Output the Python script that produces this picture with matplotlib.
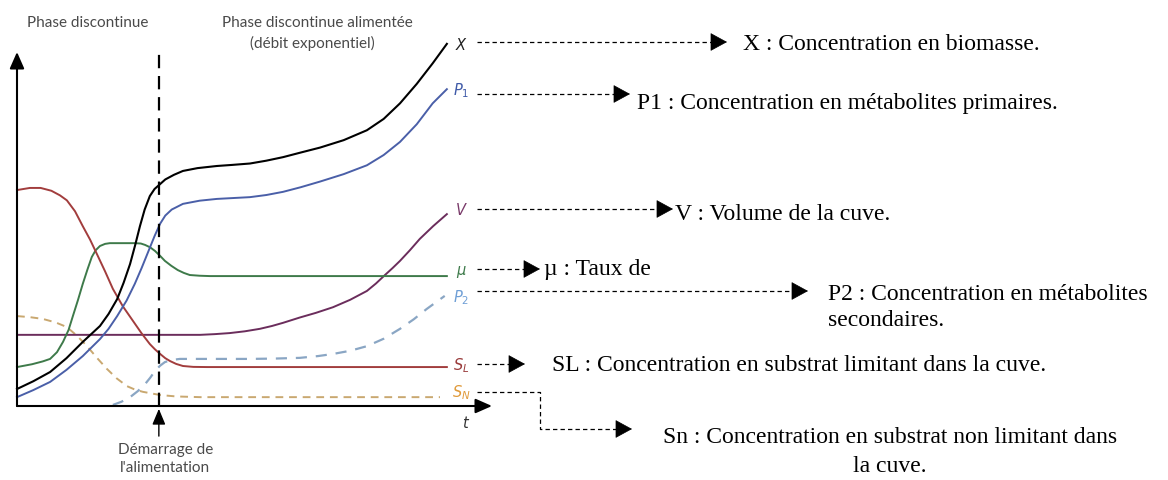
import matplotlib.pyplot as plt

plt.rcParams['mathtext.fontset'] = 'dejavusans'

# time (0 = start, 100 = end of run) and relative concentration values
t_feed = 33.0

x_t = [0, 3.8, 7.7, 11.5, 15.3, 19.3, 21.3, 23.3, 24.8, 26.3, 27.5, 28.6, 29.7, 30.9, 32.0,
       33.3, 34.5, 36.5, 38.6, 42.0, 46.5, 50.0, 54.2, 58.0, 61.9, 66.0, 70.5, 76.0, 81.4,
       85.3, 89.1, 93.0, 96.7, 100]
x_c = [4.8, 7.0, 9.6, 13.5, 18.1, 22.6, 26.0, 30.2, 34.8, 40.1, 45.5, 50.8, 55.5, 59.3, 61.3,
       62.7, 64.0, 65.3, 66.4, 67.2, 67.8, 68.1, 68.5, 69.3, 70.3, 71.6, 73.0, 75.1, 77.9,
       81.1, 85.5, 91.0, 96.8, 102.3]

p1_t = [0, 3.8, 7.7, 11.5, 15.3, 19.3, 21.3, 23.3, 25.5, 27.4, 29.0, 30.5, 32.0, 33.3, 34.5,
        36.0, 38.6, 42.5, 46.5, 54.2, 58.0, 61.9, 66.0, 70.5, 76.0, 81.4, 85.3, 89.1, 93.0,
        96.7, 100]
p1_c = [2.5, 4.5, 6.8, 10.2, 14.1, 18.9, 21.8, 25.4, 29.8, 34.5, 39.0, 43.5, 48.0, 51.5, 53.8,
        55.5, 57.1, 58.0, 58.5, 59.0, 59.6, 60.5, 61.8, 63.4, 65.5, 68.0, 70.9, 74.6, 79.6,
        85.5, 89.5]

sl_t = [0, 3.0, 5.5, 8.0, 10.0, 11.6, 13.5, 15.3, 17.0, 18.6, 20.5, 22.3, 24.6, 27.0, 29.0,
        30.9, 32.1, 33.3, 34.5, 35.6, 37.0, 38.6, 41.0, 44.2, 100]
sl_c = [61.0, 61.6, 61.6, 60.8, 59.5, 58.1, 55.0, 50.8, 47.0, 42.9, 38.0, 33.1, 28.2, 24.0, 20.5,
        17.5, 16.0, 14.7, 13.5, 12.7, 11.9, 11.3, 11.05, 11.0, 11.0]

mu_t = [0, 3.5, 6.0, 7.7, 9.3, 10.7, 12.0, 13.0, 14.2, 15.3, 16.4, 17.4, 18.3, 19.3, 20.5,
        21.6, 27.4, 28.8, 29.8, 31.0, 32.1, 33.3, 34.4, 35.9, 37.4, 38.8, 40.2, 42.5, 44.9, 100]
mu_c = [11.0, 11.8, 12.6, 13.3, 15.2, 18.1, 21.5, 25.4, 30.0, 34.5, 38.6, 42.1, 44.0, 45.2, 45.8,
        46.0, 46.0, 45.9, 45.5, 44.8, 43.8, 42.4, 41.0, 39.6, 38.4, 37.6, 37.0, 36.8, 36.7, 36.7]

v_t = [0, 42.6, 46.0, 49.5, 53.0, 56.5, 59.3, 61.9, 65.8, 69.5, 73.5, 77.5, 81.4, 83.5, 85.6,
       87.4, 89.1, 91.4, 93.7, 96.8, 100]
v_c = [20.1, 20.1, 20.3, 20.6, 21.1, 21.8, 22.6, 23.5, 25.0, 26.3, 27.9, 30.0, 32.5, 34.6, 37.0,
       39.0, 41.0, 44.0, 47.2, 50.8, 54.2]

p2_t = [22.3, 24.3, 26.3, 28.1, 29.8, 31.0, 32.1, 33.3, 34.4, 36.0, 37.9, 54.2, 60.0, 65.8,
        70.0, 73.5, 77.5, 81.4, 85.3, 89.1, 92.3, 95.3, 99.5]
p2_c = [0.3, 1.2, 2.5, 4.2, 6.2, 8.0, 9.9, 11.4, 12.4, 13.0, 13.3, 13.3, 13.4, 13.6,
        14.1, 14.7, 15.6, 16.9, 19.0, 21.8, 24.5, 27.4, 31.1]

sn_t = [0, 3.0, 6.0, 9.0, 11.6, 14.0, 16.3, 18.6, 20.9, 23.2, 25.6, 27.5, 29.3, 33.3, 37.0,
        42.6, 98.4]
sn_c = [25.4, 25.1, 24.6, 23.6, 22.3, 19.8, 16.9, 13.6, 10.5, 7.8, 5.6, 4.6, 4.0, 3.1, 2.7,
        2.5, 2.5]

curve_labels = ['$X$', '$P_1$', '$V$', '$\\mu$', '$P_2$', '$S_L$', '$S_N$']
label_c = [102.3, 89.5, 55.6, 38.1, 31.0, 11.6, 4.0]
label_col = ['#222222', '#3f5aa8', '#7a3a6a', '#3d7a4a', '#6f9fd6', '#9a3c3c', '#e09a3a']

legend_texts = ['X : Concentration en biomasse.',
                'P1 : Concentration en métabolites primaires.',
                'V : Volume de la cuve.',
                'µ : Taux de',
                'P2 : Concentration en métabolites',
                'SL : Concentration en substrat limitant dans la cuve.',
                'Sn : Concentration en substrat non limitant dans']

fig = plt.figure(figsize=(11.68, 4.81), dpi=100)
ax = fig.add_axes([17 / 1168, 74 / 481, 475 / 1168, 354 / 481])
ax.set_xlim(0, 110.5)
ax.set_ylim(0, 100)
ax.axis('off')

ax.plot(sn_t, sn_c, color='#c9a870', lw=1.4, ls=(0, (4, 3)), clip_on=False)
ax.plot(p2_t, p2_c, color='#8aa6c4', lw=1.6, ls=(0, (5, 4)), clip_on=False)
ax.plot(v_t, v_c, color='#6b2d5c', lw=1.4, clip_on=False)
ax.plot(mu_t, mu_c, color='#3e7a4a', lw=1.4, clip_on=False)
ax.plot(sl_t, sl_c, color='#a23d3d', lw=1.4, clip_on=False)
ax.plot(p1_t, p1_c, color='#4a5fa8', lw=1.4, clip_on=False)
ax.plot(x_t, x_c, color='black', lw=1.5, clip_on=False)

ax.plot([t_feed, t_feed], [0, 99.4], color='black', lw=1.6, ls=(0, (6, 3.5)))

# axes with arrow heads
head = dict(arrowstyle='-|>,head_length=0.5,head_width=0.22', color='black', lw=1.5,
            shrinkA=0, shrinkB=0, mutation_scale=20)
ax.annotate('', xy=(0, 100), xytext=(0, 0), arrowprops=head, annotation_clip=False)
ax.annotate('', xy=(110.5, 0), xytext=(0, 0), arrowprops=head, annotation_clip=False)
ax.annotate('', xy=(t_feed, -0.8), xytext=(t_feed, -8.5),
            arrowprops=dict(arrowstyle='-|>,head_length=0.6,head_width=0.25', color='black',
                            lw=1.0, shrinkA=0, shrinkB=0, mutation_scale=16),
            annotation_clip=False)

for lab, c, col in zip(curve_labels, label_c, label_col):
    ax.text(103.3, c, lab, color=col, fontsize=10.5, ha='center', va='center')
ax.text(104.4, -4.5, '$t$', color='#333333', fontsize=10.5, ha='center', va='center')

sans = dict(family='Lato', color='#4a4a4a', fontsize=11, ha='center', va='center')
ax.text(16.5, 108.5, 'Phase discontinue', **sans)
ax.text(69.8, 108.5, 'Phase discontinue alimentée', **sans)
ax.text(68.6, 102.8, '(débit exponentiel)', **sans)
ax.text(34.5, -12.1, 'Démarrage de', **sans)
ax.text(34.5, -17.2, "l'alimentation", **sans)

# overlay in pixel coordinates for the explanatory arrows
ov = fig.add_axes([0, 0, 1, 1])
ov.set_xlim(0, 1168)
ov.set_ylim(481, 0)
ov.axis('off')

dash = dict(color='black', lw=0.9, ls=(0, (3.5, 2.5)))
tip = dict(arrowstyle='-|>,head_length=0.55,head_width=0.3', color='black', lw=0.5,
           shrinkA=0, shrinkB=0, mutation_scale=20)

arrows = [(477, 727, 43), (477, 630, 95), (477, 673, 210), (477, 540, 270),
          (477, 808, 292), (477, 525, 365)]
for x0, x1, y in arrows:
    ov.plot([x0, x1 - 14], [y, y], **dash)
    ov.annotate('', xy=(x1, y), xytext=(x1 - 15, y), arrowprops=tip)

ov.plot([477, 540, 540, 618], [393, 393, 430, 430], **dash)
ov.annotate('', xy=(632, 430), xytext=(617, 430), arrowprops=tip)

serif = dict(family='Liberation Serif', fontsize=17, color='black', va='center', ha='left')
text_pos = [(743, 45), (637, 103), (675, 215), (544, 270), (828, 295), (552, 366), (663, 438)]
for (x, y), s in zip(text_pos, legend_texts):
    ov.text(x, y, s, **serif)
ov.text(828, 321, 'secondaires.', **serif)
ov.text(890, 467, 'la cuve.', family='Liberation Serif', fontsize=17, color='black',
        va='center', ha='center')

fig.savefig('out.png', dpi=100)
